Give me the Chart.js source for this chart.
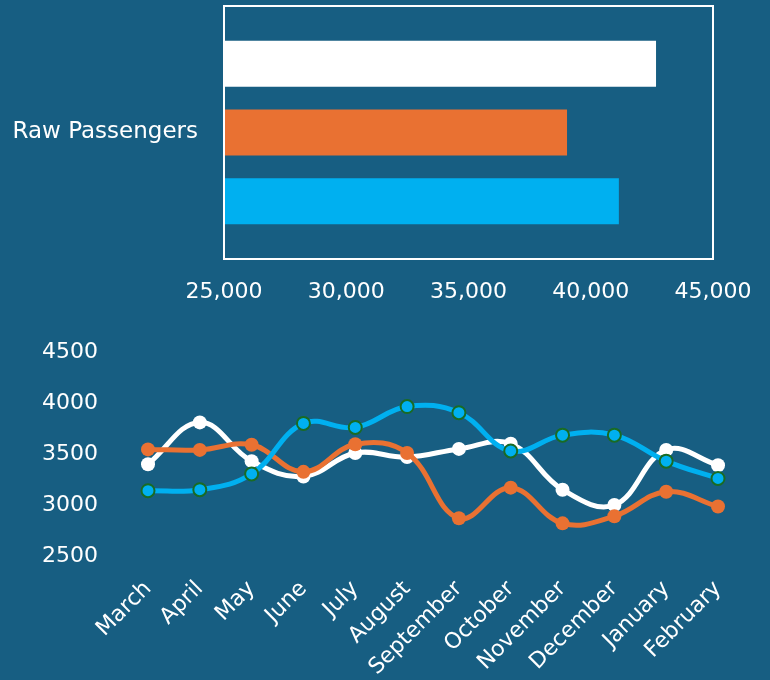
<!DOCTYPE html>
<html>
<head>
<meta charset="utf-8">
<script src="https://cdn.jsdelivr.net/npm/chart.js@4.4.1/dist/chart.umd.min.js"></script>
<style>
  html, body { margin: 0; padding: 0; background: #175e82; }
  #wrap { position: relative; width: 770px; height: 680px; overflow: hidden; }
  .box { position: absolute; left: 0; width: 770px; }
  canvas { display: block; }
</style>
</head>
<body>
<div id="wrap">
  <div class="box" style="top:0;height:320px"><canvas id="barChart" width="770" height="320"></canvas></div>
  <div class="box" style="top:320px;height:360px"><canvas id="lineChart" width="770" height="360"></canvas></div>
</div>
<script>
// bar chart data
const barCategories = ['Raw Passengers'];
const barWhite = [42670];
const barOrange = [39030];
const barBlue = [41150];

// line chart data
const months = ['March', 'April', 'May', 'June', 'July', 'August', 'September', 'October', 'November', 'December', 'January', 'February'];
const whiteSeries = [3400, 3810, 3430, 3280, 3510, 3470, 3550, 3600, 3150, 3000, 3540, 3390];
const orangeSeries = [3545, 3540, 3590, 3325, 3595, 3510, 2870, 3170, 2820, 2890, 3130, 2985];
const blueSeries = [3140, 3150, 3305, 3800, 3760, 3965, 3905, 3530, 3685, 3685, 3430, 3260];

const white = '#ffffff';
const orange = '#e97132';
const blue = '#00b0f0';
const green = '#196b24';
const labelFont = { family: 'DejaVu Sans', size: 22 };

// fix axis size and drop the extra label padding chart.js adds around the plot
function fixWidth(w) {
  return s => { s.width = w; s.paddingTop = 0; s.paddingBottom = 0; };
}
function fixHeight(h) {
  return s => { s.height = h; s.paddingLeft = 0; s.paddingRight = 0; };
}

// white frame round the bar plot area
const frameBox = {
  id: 'frameBox',
  afterDraw(chart) {
    const a = chart.chartArea;
    const ctx = chart.ctx;
    ctx.save();
    ctx.strokeStyle = white;
    ctx.lineWidth = 2;
    ctx.strokeRect(a.left, a.top, a.right - a.left, a.bottom - a.top);
    ctx.restore();
  }
};

new Chart(document.getElementById('barChart').getContext('2d'), {
  type: 'bar',
  data: {
    labels: barCategories,
    datasets: [
      { data: barWhite, backgroundColor: white },
      { data: barOrange, backgroundColor: orange },
      { data: barBlue, backgroundColor: blue }
    ]
  },
  options: {
    indexAxis: 'y',
    responsive: false,
    animation: false,
    categoryPercentage: 0.816,
    barPercentage: 0.67,
    layout: { padding: { top: 6, right: 57, bottom: 0, left: 0 } },
    plugins: { legend: { display: false }, tooltip: { enabled: false } },
    scales: {
      x: {
        min: 25000,
        max: 45000,
        grid: { display: false, drawTicks: false },
        border: { display: false },
        ticks: {
          stepSize: 5000,
          color: white,
          font: labelFont,
          padding: 20,
          callback: v => v.toLocaleString('en-US')
        },
        afterFit: fixHeight(61)
      },
      y: {
        grid: { display: false, drawTicks: false },
        border: { display: false },
        ticks: { color: white, font: { family: 'DejaVu Sans', size: 23 }, padding: 26 },
        afterFit: fixWidth(224)
      }
    }
  },
  plugins: [frameBox]
});

new Chart(document.getElementById('lineChart').getContext('2d'), {
  type: 'line',
  data: {
    labels: months,
    datasets: [
      {
        data: whiteSeries,
        borderColor: white,
        backgroundColor: white,
        borderWidth: 5,
        pointRadius: 7,
        pointBorderWidth: 0,
        tension: 0.4,
        order: 2
      },
      {
        data: orangeSeries,
        borderColor: orange,
        backgroundColor: orange,
        borderWidth: 5,
        pointRadius: 7,
        pointBorderWidth: 0,
        tension: 0.4,
        order: 1
      },
      {
        data: blueSeries,
        borderColor: blue,
        backgroundColor: blue,
        pointBorderColor: green,
        pointBorderWidth: 2,
        borderWidth: 5,
        pointRadius: 6.5,
        tension: 0.4,
        order: 0
      }
    ]
  },
  options: {
    responsive: false,
    animation: false,
    layout: { padding: { top: 32, right: 52, bottom: 0, left: 0 } },
    plugins: { legend: { display: false }, tooltip: { enabled: false } },
    scales: {
      x: {
        grid: { display: false, drawTicks: false },
        border: { display: false },
        ticks: {
          color: white,
          font: labelFont,
          minRotation: 45,
          maxRotation: 45,
          autoSkip: false,
          padding: 20
        },
        afterFit: fixHeight(124)
      },
      y: {
        min: 2500,
        max: 4500,
        grid: { display: false, drawTicks: false },
        border: { display: false },
        ticks: {
          stepSize: 500,
          color: white,
          font: labelFont,
          padding: 50,
          callback: v => String(v)
        },
        afterFit: fixWidth(148)
      }
    }
  }
});
</script>
</body>
</html>
